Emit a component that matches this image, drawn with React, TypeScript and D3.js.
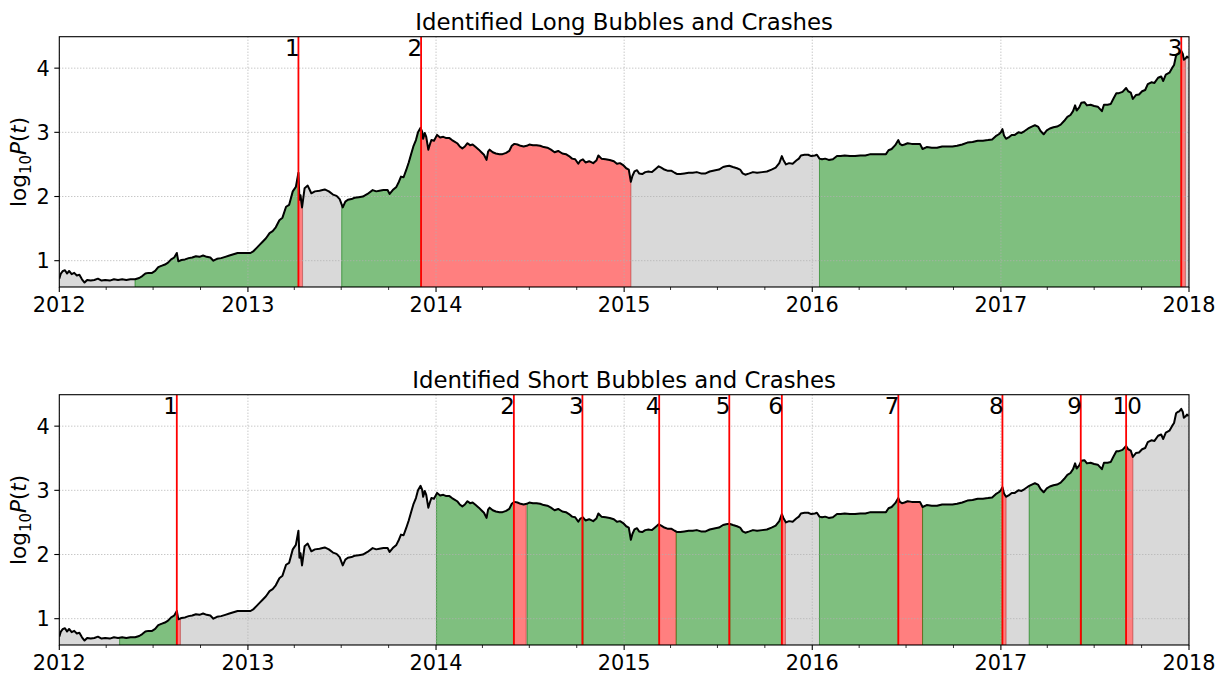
import React from 'react';
import * as d3 from 'd3';

// figure geometry (px)
const W = 1220;
const H = 674;
const left = 59.3;
const right = 1189;
const panelH = 250.3;
const panelTops = [36.7, 394.7];

// log10 BTC price, by year
const btc2012: [string, number][] = [
  ["2012-01-01", 0.72], ["2012-01-04", 0.80], ["2012-01-08", 0.84], ["2012-01-12", 0.85], ["2012-01-16", 0.80],
  ["2012-01-20", 0.84], ["2012-01-25", 0.79], ["2012-01-30", 0.81], ["2012-02-04", 0.77], ["2012-02-09", 0.78],
  ["2012-02-14", 0.71], ["2012-02-19", 0.66], ["2012-02-24", 0.70], ["2012-03-02", 0.69], ["2012-03-09", 0.70],
  ["2012-03-16", 0.72], ["2012-03-23", 0.69], ["2012-03-30", 0.70], ["2012-04-08", 0.69], ["2012-04-16", 0.71],
  ["2012-04-24", 0.70], ["2012-05-02", 0.71], ["2012-05-10", 0.70], ["2012-05-18", 0.71], ["2012-05-27", 0.71],
  ["2012-06-04", 0.73], ["2012-06-10", 0.76], ["2012-06-16", 0.80], ["2012-06-22", 0.81], ["2012-06-29", 0.81],
  ["2012-07-05", 0.84], ["2012-07-11", 0.90], ["2012-07-17", 0.92], ["2012-07-24", 0.94], ["2012-07-30", 0.97],
  ["2012-08-05", 1.02], ["2012-08-11", 1.05], ["2012-08-16", 1.12], ["2012-08-19", 0.99], ["2012-08-25", 1.01],
  ["2012-09-01", 1.02], ["2012-09-08", 1.04], ["2012-09-15", 1.05], ["2012-09-22", 1.07], ["2012-09-29", 1.06],
  ["2012-10-06", 1.08], ["2012-10-13", 1.06], ["2012-10-20", 1.05], ["2012-10-26", 1.00], ["2012-11-02", 1.03],
  ["2012-11-10", 1.04], ["2012-11-18", 1.06], ["2012-11-26", 1.08], ["2012-12-04", 1.10], ["2012-12-12", 1.12],
  ["2012-12-20", 1.12], ["2012-12-28", 1.12],
];
const btc2013: [string, number][] = [
  ["2013-01-06", 1.12], ["2013-01-12", 1.15], ["2013-01-18", 1.20], ["2013-01-24", 1.25], ["2013-01-30", 1.30],
  ["2013-02-05", 1.35], ["2013-02-12", 1.43], ["2013-02-18", 1.46], ["2013-02-24", 1.52], ["2013-03-03", 1.63],
  ["2013-03-09", 1.67], ["2013-03-16", 1.84], ["2013-03-22", 1.87], ["2013-03-29", 2.08], ["2013-04-04", 2.15],
  ["2013-04-09", 2.37], ["2013-04-11", 1.95], ["2013-04-13", 2.02], ["2013-04-16", 1.83], ["2013-04-21", 2.13],
  ["2013-04-27", 2.17], ["2013-05-04", 2.05], ["2013-05-11", 2.08], ["2013-05-20", 2.09], ["2013-05-30", 2.11],
  ["2013-06-07", 2.08], ["2013-06-15", 2.03], ["2013-06-22", 2.01], ["2013-06-28", 1.96], ["2013-07-04", 1.83],
  ["2013-07-09", 1.92], ["2013-07-14", 1.95], ["2013-07-21", 1.96], ["2013-07-27", 1.98], ["2013-08-04", 1.99],
  ["2013-08-12", 2.00], ["2013-08-21", 2.04], ["2013-08-31", 2.10], ["2013-09-07", 2.08], ["2013-09-13", 2.09],
  ["2013-09-21", 2.10], ["2013-09-29", 2.10], ["2013-10-03", 2.04], ["2013-10-09", 2.10], ["2013-10-16", 2.15],
  ["2013-10-21", 2.23], ["2013-10-25", 2.31], ["2013-10-30", 2.30], ["2013-11-04", 2.41], ["2013-11-09", 2.53],
  ["2013-11-14", 2.67], ["2013-11-18", 2.78], ["2013-11-23", 2.88], ["2013-11-27", 3.00], ["2013-12-02", 3.07],
  ["2013-12-05", 3.01], ["2013-12-07", 2.90], ["2013-12-10", 2.99], ["2013-12-13", 2.93], ["2013-12-17", 2.73],
  ["2013-12-20", 2.81], ["2013-12-23", 2.88], ["2013-12-28", 2.87],
];
const btc2014: [string, number][] = [
  ["2014-01-03", 2.96], ["2014-01-09", 2.92], ["2014-01-15", 2.93], ["2014-01-21", 2.91], ["2014-01-27", 2.91],
  ["2014-02-01", 2.88], ["2014-02-05", 2.86], ["2014-02-11", 2.83], ["2014-02-16", 2.78], ["2014-02-21", 2.75],
  ["2014-02-26", 2.78], ["2014-03-03", 2.83], ["2014-03-08", 2.80], ["2014-03-13", 2.81], ["2014-03-19", 2.77],
  ["2014-03-25", 2.73], ["2014-03-30", 2.69], ["2014-04-04", 2.65], ["2014-04-09", 2.57], ["2014-04-12", 2.70],
  ["2014-04-15", 2.73], ["2014-04-21", 2.69], ["2014-04-27", 2.67], ["2014-05-04", 2.66], ["2014-05-10", 2.66],
  ["2014-05-17", 2.68], ["2014-05-23", 2.71], ["2014-05-28", 2.79], ["2014-06-02", 2.82], ["2014-06-08", 2.81],
  ["2014-06-14", 2.79], ["2014-06-20", 2.78], ["2014-06-26", 2.79], ["2014-07-01", 2.81], ["2014-07-08", 2.80],
  ["2014-07-15", 2.80], ["2014-07-22", 2.79], ["2014-07-29", 2.77], ["2014-08-05", 2.76], ["2014-08-12", 2.73],
  ["2014-08-19", 2.69], ["2014-08-26", 2.71], ["2014-09-03", 2.67], ["2014-09-10", 2.66], ["2014-09-16", 2.63],
  ["2014-09-22", 2.59], ["2014-09-28", 2.58], ["2014-10-04", 2.51], ["2014-10-08", 2.56], ["2014-10-13", 2.58],
  ["2014-10-18", 2.53], ["2014-10-25", 2.55], ["2014-11-02", 2.52], ["2014-11-08", 2.56], ["2014-11-12", 2.64],
  ["2014-11-18", 2.59], ["2014-11-26", 2.58], ["2014-12-04", 2.57], ["2014-12-12", 2.55], ["2014-12-18", 2.51],
  ["2014-12-24", 2.52], ["2014-12-30", 2.49],
];
const btc2015: [string, number][] = [
  ["2015-01-05", 2.44], ["2015-01-10", 2.42], ["2015-01-14", 2.23], ["2015-01-17", 2.32], ["2015-01-21", 2.39],
  ["2015-01-26", 2.41], ["2015-01-30", 2.36], ["2015-02-05", 2.35], ["2015-02-11", 2.38], ["2015-02-17", 2.39],
  ["2015-02-24", 2.38], ["2015-03-03", 2.43], ["2015-03-09", 2.47], ["2015-03-14", 2.45], ["2015-03-20", 2.42],
  ["2015-03-27", 2.40], ["2015-04-03", 2.40], ["2015-04-09", 2.37], ["2015-04-14", 2.35], ["2015-04-20", 2.35],
  ["2015-04-28", 2.36], ["2015-05-06", 2.37], ["2015-05-14", 2.37], ["2015-05-22", 2.38], ["2015-05-30", 2.36],
  ["2015-06-08", 2.36], ["2015-06-16", 2.39], ["2015-06-27", 2.41], ["2015-07-04", 2.42], ["2015-07-12", 2.46],
  ["2015-07-18", 2.47], ["2015-07-24", 2.48], ["2015-07-31", 2.46], ["2015-08-08", 2.44], ["2015-08-14", 2.42],
  ["2015-08-19", 2.36], ["2015-08-24", 2.34], ["2015-09-01", 2.36], ["2015-09-08", 2.38], ["2015-09-16", 2.37],
  ["2015-09-26", 2.38], ["2015-10-05", 2.39], ["2015-10-14", 2.42], ["2015-10-22", 2.45], ["2015-10-29", 2.52],
  ["2015-11-03", 2.63], ["2015-11-06", 2.57], ["2015-11-11", 2.50], ["2015-11-17", 2.52], ["2015-11-24", 2.51],
  ["2015-12-01", 2.56], ["2015-12-06", 2.59], ["2015-12-10", 2.64], ["2015-12-17", 2.65], ["2015-12-24", 2.65],
  ["2015-12-30", 2.63],
];
const btc2016: [string, number][] = [
  ["2016-01-06", 2.64], ["2016-01-10", 2.65], ["2016-01-15", 2.59], ["2016-01-20", 2.58], ["2016-01-26", 2.59],
  ["2016-02-02", 2.57], ["2016-02-10", 2.58], ["2016-02-18", 2.63], ["2016-02-25", 2.63], ["2016-03-04", 2.64],
  ["2016-03-14", 2.63], ["2016-03-24", 2.63], ["2016-04-03", 2.64], ["2016-04-13", 2.64], ["2016-04-23", 2.66],
  ["2016-05-03", 2.66], ["2016-05-13", 2.66], ["2016-05-23", 2.66], ["2016-05-28", 2.72], ["2016-06-03", 2.74],
  ["2016-06-10", 2.80], ["2016-06-16", 2.88], ["2016-06-19", 2.82], ["2016-06-23", 2.80], ["2016-06-28", 2.81],
  ["2016-07-04", 2.83], ["2016-07-12", 2.82], ["2016-07-20", 2.82], ["2016-07-28", 2.82], ["2016-08-02", 2.74],
  ["2016-08-10", 2.77], ["2016-08-20", 2.76], ["2016-08-30", 2.76], ["2016-09-09", 2.78], ["2016-09-19", 2.78],
  ["2016-09-29", 2.78], ["2016-10-08", 2.79], ["2016-10-18", 2.81], ["2016-10-28", 2.84], ["2016-11-07", 2.85],
  ["2016-11-17", 2.87], ["2016-11-27", 2.87], ["2016-12-07", 2.88], ["2016-12-15", 2.89], ["2016-12-22", 2.94],
  ["2016-12-28", 2.97],
];
const btc2017: [string, number][] = [
  ["2017-01-01", 3.00], ["2017-01-04", 3.05], ["2017-01-07", 2.95], ["2017-01-11", 2.90], ["2017-01-16", 2.92],
  ["2017-01-22", 2.96], ["2017-01-28", 2.96], ["2017-02-04", 3.00], ["2017-02-10", 2.99], ["2017-02-16", 3.02],
  ["2017-02-23", 3.06], ["2017-03-02", 3.09], ["2017-03-08", 3.11], ["2017-03-14", 3.09], ["2017-03-19", 3.02],
  ["2017-03-25", 2.97], ["2017-03-31", 3.03], ["2017-04-06", 3.06], ["2017-04-13", 3.08], ["2017-04-20", 3.09],
  ["2017-04-27", 3.12], ["2017-05-04", 3.18], ["2017-05-10", 3.24], ["2017-05-16", 3.27], ["2017-05-21", 3.33],
  ["2017-05-25", 3.42], ["2017-05-28", 3.34], ["2017-06-02", 3.39], ["2017-06-06", 3.46], ["2017-06-12", 3.47],
  ["2017-06-17", 3.42], ["2017-06-24", 3.43], ["2017-07-01", 3.41], ["2017-07-08", 3.40], ["2017-07-16", 3.33],
  ["2017-07-20", 3.43], ["2017-07-27", 3.43], ["2017-08-02", 3.44], ["2017-08-07", 3.52], ["2017-08-13", 3.61],
  ["2017-08-18", 3.61], ["2017-08-25", 3.63], ["2017-09-01", 3.69], ["2017-09-05", 3.64], ["2017-09-10", 3.62],
  ["2017-09-14", 3.52], ["2017-09-20", 3.58], ["2017-09-26", 3.59], ["2017-10-02", 3.64], ["2017-10-08", 3.66],
  ["2017-10-13", 3.75], ["2017-10-20", 3.78], ["2017-10-26", 3.77], ["2017-11-02", 3.85], ["2017-11-08", 3.87],
  ["2017-11-12", 3.80], ["2017-11-17", 3.90], ["2017-11-24", 3.93], ["2017-11-29", 4.00], ["2017-12-03", 4.05],
  ["2017-12-07", 4.20], ["2017-12-10", 4.22], ["2017-12-13", 4.23], ["2017-12-17", 4.27], ["2017-12-20", 4.22],
  ["2017-12-22", 4.13], ["2017-12-25", 4.15], ["2017-12-28", 4.18], ["2017-12-31", 4.16],
];

// regimes: [start, end, kind]
const longRegimes: [string, string, string][] = [
  ["2012-01-01", "2012-05-27", "other"],
  ["2012-05-27", "2013-04-09", "bubble"],
  ["2013-04-09", "2013-04-17", "crash"],
  ["2013-04-17", "2013-07-02", "other"],
  ["2013-07-02", "2013-12-03", "bubble"],
  ["2013-12-03", "2015-01-14", "crash"],
  ["2015-01-14", "2016-01-15", "other"],
  ["2016-01-15", "2017-12-17", "bubble"],
  ["2017-12-17", "2017-12-25", "crash"],
  ["2017-12-25", "2017-12-31", "other"],
];
const longCrashes = ["2013-04-09", "2013-12-03", "2017-12-17"];

const shortRegimes: [string, string, string][] = [
  ["2012-01-01", "2012-04-27", "other"],
  ["2012-04-27", "2012-08-16", "bubble"],
  ["2012-08-16", "2012-08-23", "crash"],
  ["2012-08-23", "2014-01-02", "other"],
  ["2014-01-02", "2014-06-01", "bubble"],
  ["2014-06-01", "2014-06-25", "crash"],
  ["2014-06-25", "2014-06-27", "other"],
  ["2014-06-27", "2014-10-12", "bubble"],
  ["2014-10-12", "2014-10-13", "crash"],
  ["2014-10-13", "2015-03-10", "bubble"],
  ["2015-03-10", "2015-04-12", "crash"],
  ["2015-04-12", "2015-07-24", "bubble"],
  ["2015-07-24", "2015-07-25", "crash"],
  ["2015-07-25", "2015-11-03", "bubble"],
  ["2015-11-03", "2015-11-10", "crash"],
  ["2015-11-10", "2016-01-15", "other"],
  ["2016-01-15", "2016-06-16", "bubble"],
  ["2016-06-16", "2016-08-02", "crash"],
  ["2016-08-02", "2017-01-04", "bubble"],
  ["2017-01-04", "2017-01-11", "crash"],
  ["2017-01-11", "2017-02-25", "other"],
  ["2017-02-25", "2017-06-05", "bubble"],
  ["2017-06-05", "2017-06-06", "crash"],
  ["2017-06-06", "2017-09-01", "bubble"],
  ["2017-09-01", "2017-09-14", "crash"],
  ["2017-09-14", "2017-12-31", "other"],
];
const shortCrashes = [
  "2012-08-16", "2014-06-01", "2014-10-12", "2015-03-10", "2015-07-24",
  "2015-11-03", "2016-06-16", "2017-01-04", "2017-06-05", "2017-09-01",
];

const yTicks = [1, 2, 3, 4];
const titles = ["Identified Long Bubbles and Crashes", "Identified Short Bubbles and Crashes"];

const styles: Record<string, { c: string; a: number }> = {
  bubble: { c: "#008000", a: 0.5 },
  crash: { c: "#ff0000", a: 0.5 },
  other: { c: "#808080", a: 0.3 },
};

const parse = d3.utcParse("%Y-%m-%d");
type Pt = { date: Date; v: number };
const series: Pt[] = [...btc2012, ...btc2013, ...btc2014, ...btc2015, ...btc2016, ...btc2017]
  .map(([d, v]) => ({ date: parse(d) as Date, v }));

const xScale = d3.scaleUtc()
  .domain([parse("2012-01-01") as Date, parse("2018-01-01") as Date])
  .range([left, right]);
const yScale = d3.scaleLinear().domain([0.59, 4.49]).range([panelH, 0]);

const bis = d3.bisector((p: Pt) => p.date).left;
function valueAt(t: Date) {
  const i = bis(series, t);
  if (i <= 0) return series[0].v;
  if (i >= series.length) return series[series.length - 1].v;
  const a = series[i - 1], b = series[i];
  const f = (+t - +a.date) / (+b.date - +a.date);
  return a.v + f * (b.v - a.v);
}
function slice(s: Date, e: Date): Pt[] {
  return [
    { date: s, v: valueAt(s) },
    ...series.filter(p => p.date > s && p.date < e),
    { date: e, v: valueAt(e) },
  ];
}

const area = d3.area<Pt>().x(d => xScale(d.date)).y0(panelH).y1(d => yScale(d.v));
const line = d3.line<Pt>().x(d => xScale(d.date)).y(d => yScale(d.v));

const font = "'DejaVu Sans', sans-serif";
const tickSize = 20.8;
const titleSize = 22.8;
const numSize = 23;

function Panel({ idx, regimes, crashes }: { idx: number; regimes: [string, string, string][]; crashes: string[] }) {
  const top = panelTops[idx];
  const years = xScale.ticks(d3.utcYear.every(1) as any);
  const quarters = xScale.ticks(d3.utcMonth.every(3) as any).filter(d => d.getUTCMonth() !== 0);
  const clipId = `clip${idx}`;
  return (
    <g transform={`translate(0,${top})`}>
      <defs>
        <clipPath id={clipId}>
          <rect x={left} y={0} width={right - left} height={panelH} />
        </clipPath>
      </defs>
      <text x={(left + right) / 2} y={-6.5} textAnchor="middle" fontSize={titleSize} fontFamily={font}>
        {titles[idx]}
      </text>
      <g clipPath={`url(#${clipId})`}>
        {regimes.map(([s, e, k], i) => {
          const st = styles[k];
          return (
            <path key={i} d={area(slice(parse(s) as Date, parse(e) as Date)) || ""}
              fill={st.c} fillOpacity={st.a} stroke={st.c} strokeOpacity={st.a} strokeWidth={1} />
          );
        })}
        {years.map((d, i) => (
          <line key={`gx${i}`} x1={xScale(d)} x2={xScale(d)} y1={0} y2={panelH}
            stroke="#b0b0b0" strokeWidth={1} strokeDasharray="1,2" />
        ))}
        {yTicks.map(v => (
          <line key={`gy${v}`} x1={left} x2={right} y1={yScale(v)} y2={yScale(v)}
            stroke="#b0b0b0" strokeWidth={1} strokeDasharray="1,2" />
        ))}
        <path d={line(series) || ""} fill="none" stroke="#000" strokeWidth={2} strokeLinejoin="round" />
        {crashes.map((c, i) => (
          <line key={`c${i}`} x1={xScale(parse(c) as Date)} x2={xScale(parse(c) as Date)} y1={0} y2={panelH}
            stroke="#ff0000" strokeWidth={1.8} />
        ))}
      </g>
      {crashes.map((c, i) => (
        <text key={`t${i}`} x={xScale(parse(c) as Date) - 13.5} y={19.5} fontSize={numSize} fontFamily={font}>
          {i + 1}
        </text>
      ))}
      <rect x={left} y={0} width={right - left} height={panelH} fill="none" stroke="#000" strokeWidth={1.1} />
      {years.map((d, i) => (
        <g key={`xt${i}`}>
          <line x1={xScale(d)} x2={xScale(d)} y1={panelH} y2={panelH + 5} stroke="#000" strokeWidth={1.1} />
          <text x={xScale(d)} y={panelH + 25} textAnchor="middle" fontSize={tickSize} fontFamily={font}>
            {d3.utcFormat("%Y")(d)}
          </text>
        </g>
      ))}
      {quarters.map((d, i) => (
        <line key={`mt${i}`} x1={xScale(d)} x2={xScale(d)} y1={panelH} y2={panelH + 3} stroke="#000" strokeWidth={0.8} />
      ))}
      {yTicks.map(v => (
        <g key={`yt${v}`}>
          <line x1={left - 5} x2={left} y1={yScale(v)} y2={yScale(v)} stroke="#000" strokeWidth={1.1} />
          <text x={left - 9.5} y={yScale(v)} dy="0.36em" textAnchor="end" fontSize={tickSize} fontFamily={font}>
            {v}
          </text>
        </g>
      ))}
      <text transform={`translate(26,${panelH / 2}) rotate(-90)`} textAnchor="middle" fontSize={21.5} fontFamily={font}>
        <tspan>log</tspan>
        <tspan fontSize={15} dy={5}>10</tspan>
        <tspan dy={-5} fontStyle="italic">P</tspan>
        <tspan>(</tspan>
        <tspan fontStyle="italic">t</tspan>
        <tspan>)</tspan>
      </text>
    </g>
  );
}

export default function App() {
  return (
    <div style={{ position: 'absolute', left: 0, top: 0 }}>
      <svg width={W} height={H} viewBox={`0 0 ${W} ${H}`} style={{ display: 'block', background: '#fff' }}>
        <Panel idx={0} regimes={longRegimes} crashes={longCrashes} />
        <Panel idx={1} regimes={shortRegimes} crashes={shortCrashes} />
      </svg>
    </div>
  );
}
